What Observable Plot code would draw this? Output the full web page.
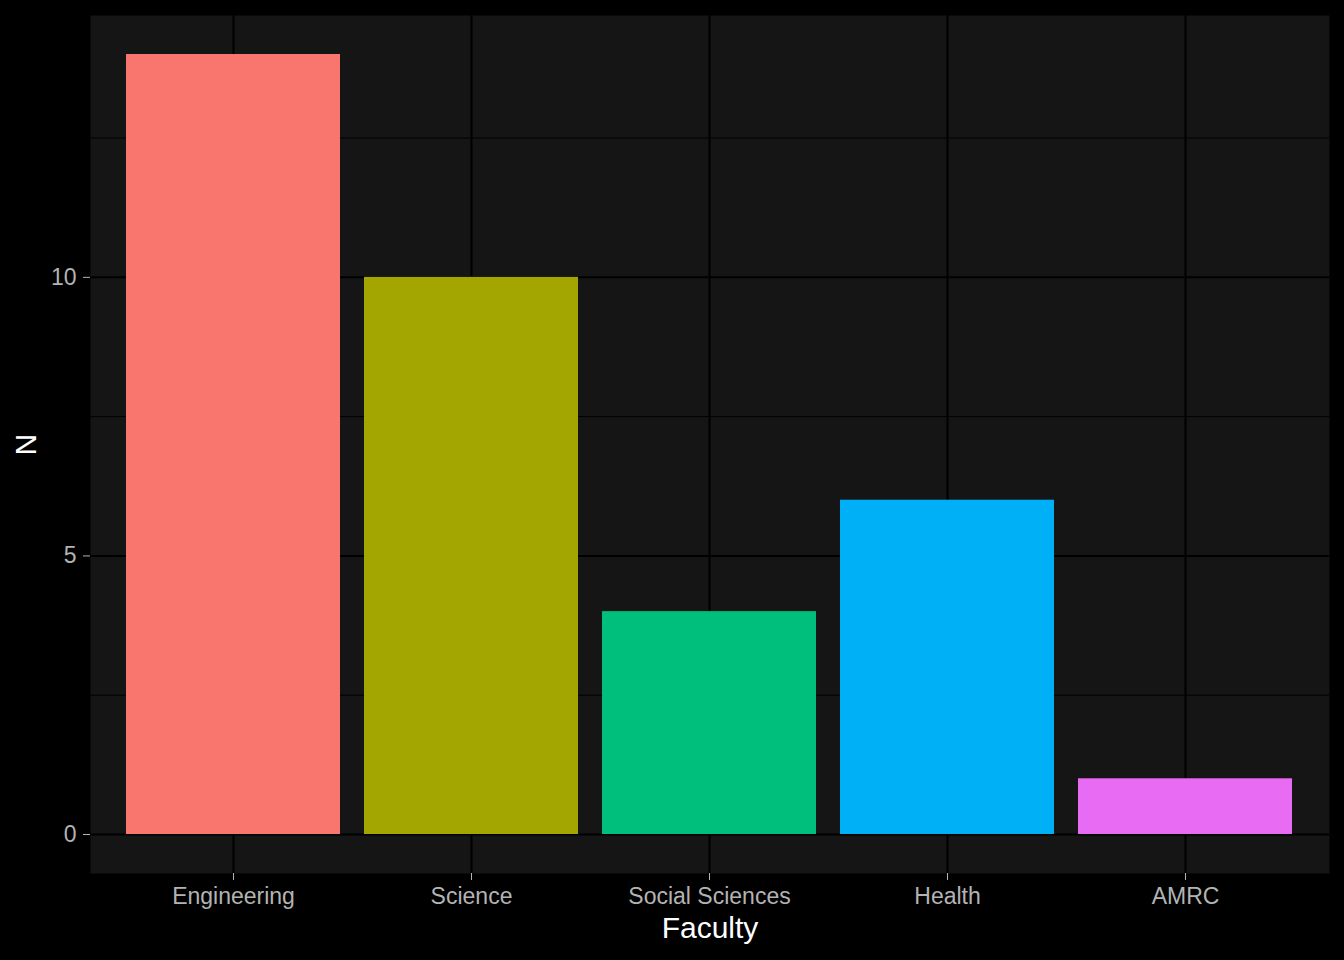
<!DOCTYPE html>
<html>
<head>
<meta charset="utf-8">
<script src="https://cdn.jsdelivr.net/npm/d3@7"></script>
<script src="https://cdn.jsdelivr.net/npm/@observablehq/plot@0.6"></script>
<style>
  html, body { margin: 0; padding: 0; background: #000000; }
  #chart { width: 1344px; height: 960px; }
</style>
</head>
<body>
<div id="chart"></div>
<script>
const faculties = ["Engineering", "Science", "Social Sciences", "Health", "AMRC"];
const counts = [14, 10, 4, 6, 1];
const colors = ["#F8766D", "#A3A500", "#00BF7D", "#00B0F6", "#E76BF3"];
const majorTicks = [0, 5, 10];
const minorTicks = [2.5, 7.5, 12.5];
const xTitle = "Faculty";
const yTitle = "N";

const data = faculties.map((f, i) => ({faculty: f, n: counts[i]}));

const chart = Plot.plot({
  width: 1344,
  height: 960,
  marginLeft: 90,
  marginRight: 15,
  marginTop: 15,
  marginBottom: 87,
  style: {background: "#000000", color: "#b3b3b3", fontFamily: "'Liberation Sans', Arial, sans-serif"},
  x: {domain: faculties, paddingInner: 0.1, paddingOuter: 0.15, axis: null},
  y: {domain: [-0.7, 14.7], axis: null},
  color: {domain: faculties, range: colors},
  marks: [
    Plot.frame({fill: "#151515", stroke: null}),
    Plot.ruleY(minorTicks, {stroke: "#000000", strokeWidth: 1}),
    Plot.ruleY(majorTicks, {stroke: "#000000", strokeWidth: 2}),
    Plot.ruleX(faculties, {x: d => d, stroke: "#000000", strokeWidth: 2}),
    Plot.barY(data, {x: "faculty", y: "n", fill: "faculty"}),
    Plot.axisY({ticks: majorTicks, tickSize: 7, tickPadding: 7, fontSize: 23, color: "#b3b3b3", label: null, tickFormat: d => String(d)}),
    Plot.axisX({tickSize: 7, tickPadding: 7, fontSize: 23, color: "#b3b3b3", label: null}),
    Plot.text([xTitle], {frameAnchor: "bottom", dy: 64, text: d => d, fontSize: 30, fill: "#ffffff"}),
    Plot.text([yTitle], {frameAnchor: "left", dx: -64, dy: 11, rotate: -90, text: d => d, fontSize: 30, fill: "#ffffff"})
  ]
});
document.getElementById("chart").appendChild(chart);
</script>
</body>
</html>
